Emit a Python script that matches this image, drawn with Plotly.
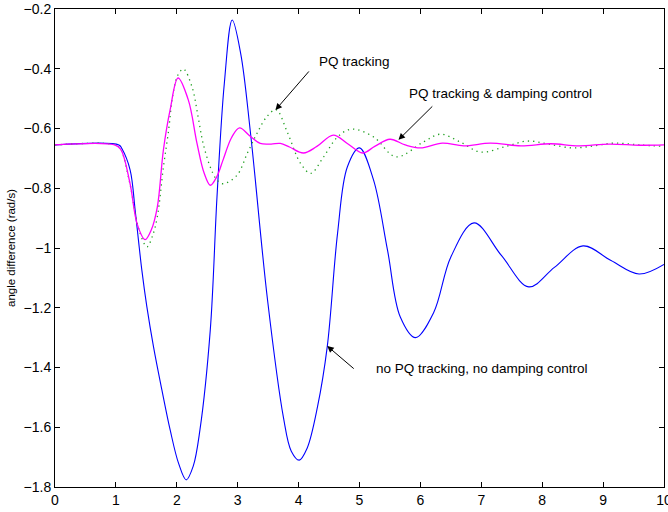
import plotly.graph_objects as go

# Time (s) and angle difference (rad/s) for the three control cases
t_none = [0, 1.05, 1.10, 1.234, 1.316, 1.37, 1.426, 1.508, 1.617, 1.755, 1.891, 2.028,
          2.155, 2.27, 2.38, 2.55, 2.66, 2.78, 2.91, 3.05, 3.21, 3.49, 3.75, 3.88, 4.01,
          4.14, 4.31, 4.47, 4.64, 4.80, 5.0, 5.23, 5.46, 5.67, 5.92, 6.22, 6.5, 6.88,
          7.33, 7.78, 8.2, 8.67, 9.13, 9.59, 10]
y_none = [-0.655, -0.655, -0.668, -0.739, -0.873, -0.973, -1.074, -1.196, -1.330,
          -1.475, -1.609, -1.720, -1.776, -1.73, -1.609, -1.274, -0.829, -0.45, -0.237,
          -0.35, -0.615, -1.174, -1.566, -1.68, -1.71, -1.67, -1.532, -1.331, -0.950,
          -0.729, -0.665, -0.772, -1.007, -1.231, -1.300, -1.215, -1.03, -0.916, -1.025,
          -1.13, -1.065, -0.993, -1.042, -1.087, -1.055]

t_pq = [0, 1.0, 1.08, 1.23, 1.38, 1.51, 1.6, 1.68, 1.78, 1.86, 1.94, 2.02, 2.11, 2.25,
        2.35, 2.43, 2.55, 2.65, 2.76, 2.99, 3.16, 3.32, 3.48, 3.63, 3.82, 4.03, 4.2,
        4.41, 4.64, 4.87, 5.23, 5.6, 6.05, 6.33, 6.65, 6.99, 7.4, 7.76, 8.1, 8.5, 8.85,
        9.18, 9.6, 10]
y_pq = [-0.655, -0.655, -0.67, -0.785, -0.94, -0.996, -0.96, -0.896, -0.729, -0.615,
        -0.481, -0.42, -0.401, -0.461, -0.561, -0.648, -0.729, -0.77, -0.785, -0.756,
        -0.682, -0.615, -0.56, -0.537, -0.615, -0.716, -0.75, -0.695, -0.628, -0.602,
        -0.628, -0.695, -0.645, -0.619, -0.645, -0.679, -0.66, -0.642, -0.652, -0.665,
        -0.658, -0.649, -0.655, -0.66]

t_pqd = [0, 0.98, 1.08, 1.23, 1.35, 1.48, 1.58, 1.68, 1.78, 1.89, 2.02, 2.19, 2.33,
         2.45, 2.55, 2.66, 2.76, 2.9, 3.03, 3.2, 3.37, 3.55, 3.7, 3.85, 4.08, 4.3, 4.57,
         4.8, 5.05, 5.25, 5.5, 5.75, 6.0, 6.36, 6.71, 7.15, 7.65, 8.14, 8.6, 9.1, 9.6, 10]
y_pqd = [-0.655, -0.655, -0.67, -0.782, -0.92, -0.972, -0.94, -0.863, -0.672, -0.538,
         -0.431, -0.505, -0.648, -0.75, -0.79, -0.76, -0.705, -0.63, -0.598, -0.625,
         -0.65, -0.652, -0.650, -0.662, -0.682, -0.66, -0.622, -0.65, -0.682, -0.66,
         -0.636, -0.655, -0.665, -0.649, -0.658, -0.649, -0.658, -0.651, -0.658, -0.652,
         -0.656, -0.655]

x_ticks = [0, 1, 2, 3, 4, 5, 6, 7, 8, 9, 10]
y_ticks = [-1.8, -1.6, -1.4, -1.2, -1.0, -0.8, -0.6, -0.4, -0.2]
y_tick_text = ["\u22121.8", "\u22121.6", "\u22121.4", "\u22121.2", "\u22121",
               "\u22120.8", "\u22120.6", "\u22120.4", "\u22120.2"]

FONT = "Liberation Sans, Arial, sans-serif"

fig = go.Figure()
fig.add_trace(go.Scatter(x=t_none, y=y_none, mode="lines",
                         line=dict(color="#0000ff", width=1.1, shape="spline", smoothing=1.0)))
fig.add_trace(go.Scatter(x=t_pq, y=y_pq, mode="lines",
                         line=dict(color="#22a022", width=1.3, dash="1.3px,4px",
                                   shape="spline", smoothing=1.0)))
fig.add_trace(go.Scatter(x=t_pqd, y=y_pqd, mode="lines",
                         line=dict(color="#ff00ff", width=1.3, shape="spline", smoothing=1.0)))

# Labels with arrows pointing at each curve
notes = [
    dict(text="PQ tracking", tx=4.92, ty=-0.377, hx=3.62, hy=-0.538, ax=4.19, ay=-0.404),
    dict(text="PQ tracking & damping control", tx=7.32, ty=-0.484,
         hx=5.64, hy=-0.638, ax=6.22, ay=-0.521),
    dict(text="no PQ tracking, no damping control", tx=7.01, ty=-1.405,
         hx=4.47, hy=-1.328, ax=4.93, ay=-1.408),
]
for n in notes:
    fig.add_annotation(x=n["tx"], y=n["ty"], text=n["text"], showarrow=False,
                       font=dict(family=FONT, size=13.5, color="black"))
    fig.add_annotation(x=n["hx"], y=n["hy"], ax=n["ax"], ay=n["ay"], xref="x", yref="y",
                       axref="x", ayref="y", text="", showarrow=True, arrowhead=2,
                       arrowsize=1.3, arrowwidth=1, arrowcolor="black")

axis_common = dict(showgrid=False, zeroline=False, showline=True, linecolor="black",
                   linewidth=1, mirror="ticks", ticks="inside", ticklen=5,
                   tickcolor="black", ticklabeloverflow="allow", automargin=False,
                   tickfont=dict(family=FONT, size=14, color="black"))

fig.update_xaxes(range=[0, 10], tickvals=x_ticks, **axis_common)
fig.update_yaxes(range=[-1.8, -0.2], tickvals=y_ticks, ticktext=y_tick_text,
                 title=dict(text="angle difference (rad/s)", standoff=5,
                            font=dict(family=FONT, size=11.5, color="black")),
                 **axis_common)

fig.update_layout(width=668, height=512, showlegend=False,
                  margin=dict(l=55, r=4, t=9, b=25),
                  paper_bgcolor="white", plot_bgcolor="white",
                  font=dict(family=FONT, size=12, color="black"))

fig.write_html("out.html")
